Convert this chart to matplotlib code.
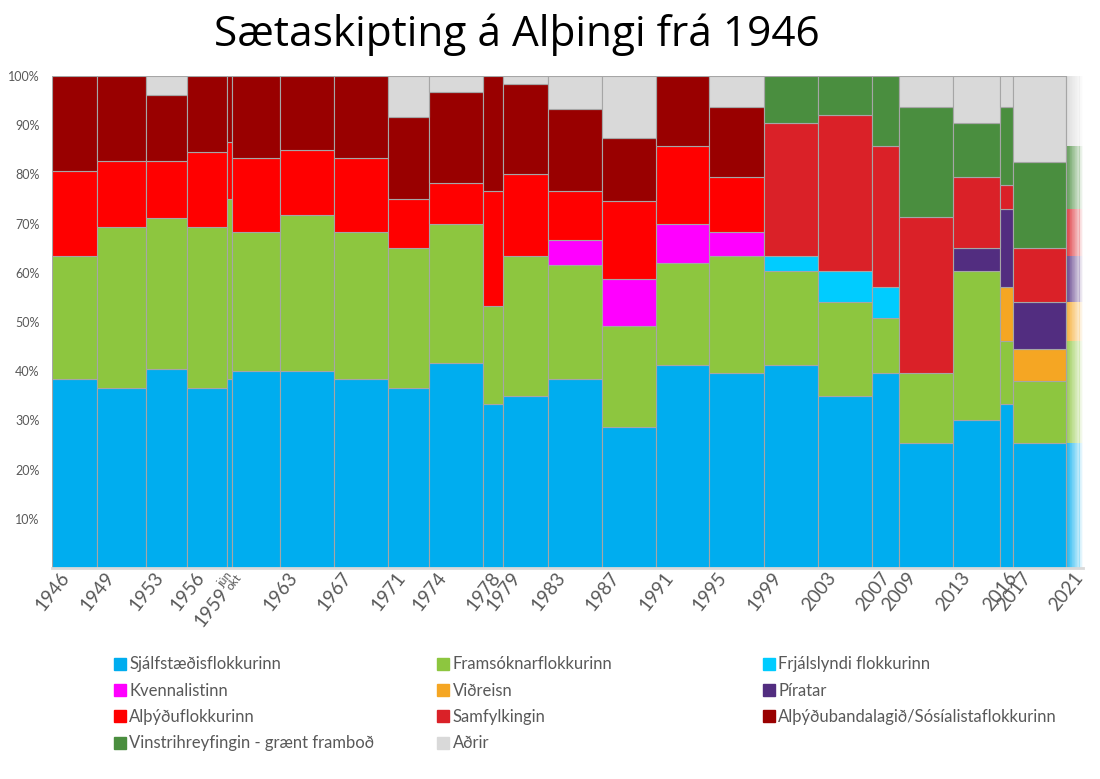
import matplotlib.pyplot as plt
from matplotlib.lines import Line2D
import matplotlib.transforms as mtransforms

plt.rcParams['font.family'] = ['Lato', 'DejaVu Sans']

# election dates (decimal year) and labels
election_x = [1946.49, 1949.81, 1953.49, 1956.48, 1959.49, 1959.82, 1963.44, 1967.44,
              1971.45, 1974.49, 1978.48, 1979.92, 1983.31, 1987.31, 1991.30, 1995.27,
              1999.35, 2003.36, 2007.36, 2009.31, 2013.32, 2016.83, 2017.82, 2021.73]
end_x = 2023.0
year_labels = ['1946', '1949', '1953', '1956', '1959', '', '1963', '1967', '1971', '1974',
               '1978', '1979', '1983', '1987', '1991', '1995', '1999', '2003', '2007',
               '2009', '2013', '2016', '2017', '2021']

# seats per party per election
sjalf = [20, 19, 21, 19, 20, 24, 24, 23, 22, 25, 20, 21, 23, 18, 26, 25, 26, 22, 25, 16, 19, 21, 16, 16]
frams = [13, 17, 16, 17, 19, 17, 19, 18, 17, 17, 12, 17, 14, 13, 13, 15, 12, 12, 7, 9, 19, 8, 8, 13]
frjals = [0] * 16 + [2, 4, 4, 0, 0, 0, 0, 0]
kvenna = [0] * 12 + [3, 6, 5, 3] + [0] * 8
vidreisn = [0] * 21 + [7, 4, 5]
piratar = [0] * 20 + [3, 10, 6, 6]
althfl = [9, 7, 6, 8, 6, 9, 8, 9, 6, 5, 14, 10, 6, 10, 10, 7] + [0] * 8
samf = [0] * 16 + [17, 20, 18, 20, 9, 3, 7, 6]
abl = [10, 9, 7, 8, 7, 10, 9, 10, 10, 11, 14, 11, 10, 8, 9, 9] + [0] * 8
vg = [0] * 16 + [6, 5, 9, 14, 7, 10, 11, 8]
adrir = [0, 0, 2, 0, 0, 0, 0, 0, 5, 2, 0, 1, 4, 8, 0, 4, 0, 0, 0, 4, 6, 4, 11, 9]

parties = ['Sjálfstæðisflokkurinn', 'Framsóknarflokkurinn', 'Frjálslyndi flokkurinn',
           'Kvennalistinn', 'Viðreisn', 'Píratar', 'Alþýðuflokkurinn', 'Samfylkingin',
           'Alþýðubandalagið/Sósíalistaflokkurinn', 'Vinstrihreyfingin - grænt framboð', 'Aðrir']
seats = [sjalf, frams, frjals, kvenna, vidreisn, piratar, althfl, samf, abl, vg, adrir]
colors = ['#00ADEF', '#8DC63F', '#00CCFF', '#FF00FF', '#F5A623', '#522D80',
          '#FF0000', '#DA2128', '#990000', '#4A8E3F', '#D9D9D9']

n = len(election_x)
totals = [sum(s[i] for s in seats) for i in range(n)]
starts = election_x
ends = election_x[1:] + [end_x]

fig = plt.figure(figsize=(11, 7.79), dpi=100)
ax = fig.add_axes([0.0473, 0.2709, 0.9373, 0.6316])

edge = '#A6A6A6'
bottoms = [0.0] * n
for party, s, c in zip(parties, seats, colors):
    for i in range(n):
        if s[i] == 0:
            continue
        share = s[i] / totals[i]
        if i < n - 1:
            ax.bar(starts[i], share, width=ends[i] - starts[i], bottom=bottoms[i],
                   align='edge', color=c, edgecolor=edge, linewidth=0.8)
        else:
            # last term still running: fade out to the right
            k = 24
            w = (ends[i] - starts[i]) / k
            for j in range(k):
                ax.bar(starts[i] + j * w, share, width=w * 1.05, bottom=bottoms[i],
                       align='edge', color=c, linewidth=0, alpha=0.9 * (1 - j / k))
        bottoms[i] += share
ax.plot([starts[-1], starts[-1]], [0, 1], color=edge, lw=0.8)

ax.set_xlim(starts[0], end_x)
ax.set_ylim(0, 1)
ax.set_yticks([i / 10 for i in range(1, 11)])
ax.set_yticklabels([f'{i * 10}%' for i in range(1, 11)], fontsize=9, color='#595959')
ax.tick_params(axis='y', length=0, pad=9)
ax.set_xticks([])
for sp in ['top', 'right', 'left']:
    ax.spines[sp].set_visible(False)
ax.spines['bottom'].set_color('#D9D9D9')
ax.spines['bottom'].set_linewidth(2)

# rotated year labels
trans = mtransforms.blended_transform_factory(ax.transData, ax.transAxes)
for x, lab in zip(starts, year_labels):
    if not lab:
        continue
    dx, dy = 14, -6
    if lab == '1959':
        dx, dy = -2, -22
    off = mtransforms.ScaledTranslation(dx / 100, dy / 100, fig.dpi_scale_trans)
    ax.text(x, 0, lab, transform=trans + off, rotation=52, rotation_mode='anchor',
            ha='right', va='center', fontsize=13.5, color='#595959')
for lab, dx, dy in [('jún', -2, -11), ('okt', 7, -14)]:
    off = mtransforms.ScaledTranslation(dx / 100, dy / 100, fig.dpi_scale_trans)
    ax.text(starts[4], 0, lab, transform=trans + off, rotation=52, rotation_mode='anchor',
            ha='center', va='center', fontsize=8.5, color='#595959')

fig.text(0.47, 0.955, 'Sætaskipting á Alþingi frá 1946', ha='center', va='center',
         fontsize=30.5, family=['Open Sans', 'DejaVu Sans'], color='black')

# legend: three columns at fixed positions
cols = [[0, 3, 6, 9], [1, 4, 7, 10], [2, 5, 8]]
col_x = [0.097, 0.391, 0.687]
for cx, idx in zip(col_x, cols):
    handles = [Line2D([], [], marker='s', ls='', markersize=8, color=colors[i]) for i in idx]
    fig.legend(handles, [parties[i] for i in idx], loc='upper left',
               bbox_to_anchor=(cx, 0.166), frameon=False, fontsize=12,
               labelcolor='#595959', handletextpad=0.15, labelspacing=0.62,
               borderaxespad=0, handlelength=0.8)

fig.savefig('out.png', dpi=100)
